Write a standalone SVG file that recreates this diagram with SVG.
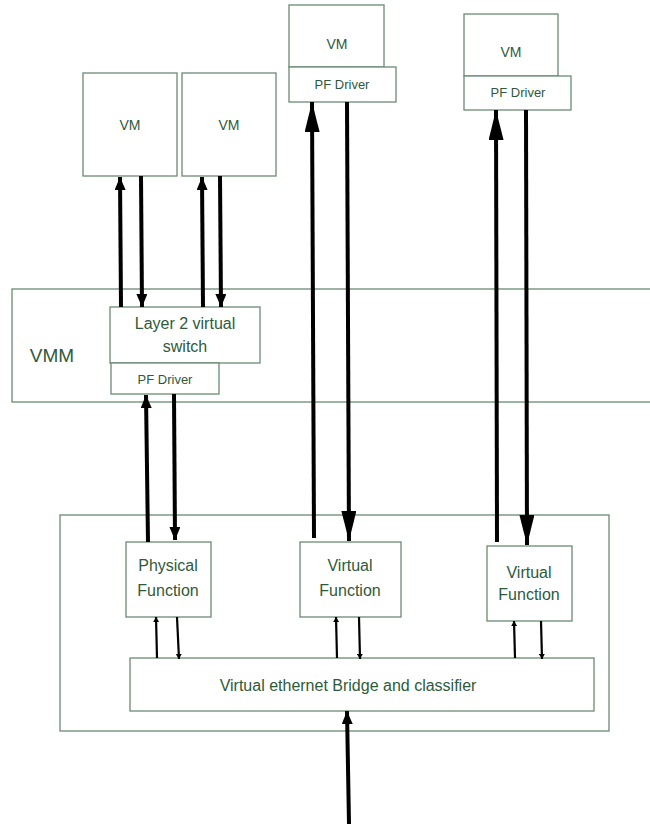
<svg xmlns="http://www.w3.org/2000/svg" width="650" height="826" viewBox="0 0 650 826">
<style>
.box{fill:#fff;stroke:#6b8a74;stroke-width:1.3}
.t{font-family:"Liberation Sans","DejaVu Sans",sans-serif;fill:#2e5a3c;text-anchor:middle}
.thick{stroke:#000;stroke-width:4;fill:none}
.thin{stroke:#000;stroke-width:2.2;fill:none}
</style>
<defs>
<marker id="big" markerUnits="userSpaceOnUse" markerWidth="30" markerHeight="15" refX="30" refY="7.5" orient="auto" viewBox="0 0 30 15">
<path d="M0,0 L30,7.5 L0,15 Z" fill="#000"/>
</marker>
<marker id="med" markerUnits="userSpaceOnUse" markerWidth="13" markerHeight="11" refX="13" refY="5.5" orient="auto" viewBox="0 0 13 11">
<path d="M0,0 L13,5.5 L0,11 Z" fill="#000"/>
</marker>
<marker id="sm" markerUnits="userSpaceOnUse" markerWidth="5" markerHeight="6" refX="5" refY="3" orient="auto" viewBox="0 0 5 6">
<path d="M0,0 L5,3 L0,6 Z" fill="#000"/>
</marker>
</defs>

<g id="vmm">
<rect class="box" x="12" y="289" width="645" height="113"/>
<text class="t" x="52" y="362" font-size="19">VMM</text>
</g>
<g id="nic">
<rect class="box" x="60" y="515" width="549" height="216"/>
</g>

<g id="vm1"><rect class="box" x="83" y="73" width="94" height="103"/><text class="t" x="130" y="130" font-size="14">VM</text></g>
<g id="vm2"><rect class="box" x="182" y="73" width="94" height="103"/><text class="t" x="229" y="130" font-size="14">VM</text></g>
<g id="vm3"><rect class="box" x="289" y="5" width="95" height="62"/><text class="t" x="337" y="49" font-size="14">VM</text></g>
<g id="pfd3"><rect class="box" x="289" y="67" width="107" height="35"/><text class="t" x="342" y="89" font-size="13">PF Driver</text></g>
<g id="vm4"><rect class="box" x="464" y="14" width="94" height="62"/><text class="t" x="511" y="57" font-size="14">VM</text></g>
<g id="pfd4"><rect class="box" x="464" y="76" width="107" height="34"/><text class="t" x="518" y="97" font-size="13">PF Driver</text></g>

<g id="l2"><rect class="box" x="110" y="307" width="150" height="56"/><text class="t" x="185" y="329" font-size="16">Layer 2 virtual</text><text class="t" x="185" y="352" font-size="16">switch</text></g>
<g id="pfd1"><rect class="box" x="111" y="363" width="108" height="31"/><text class="t" x="165" y="384" font-size="13">PF Driver</text></g>

<g id="pf"><rect class="box" x="126" y="542" width="85" height="75"/><text class="t" x="168" y="571" font-size="16">Physical</text><text class="t" x="168" y="596" font-size="16">Function</text></g>
<g id="vf1"><rect class="box" x="300" y="542" width="101" height="75"/><text class="t" x="350" y="571" font-size="16">Virtual</text><text class="t" x="350" y="596" font-size="16">Function</text></g>
<g id="vf2"><rect class="box" x="487" y="546" width="85" height="75"/><text class="t" x="529" y="578" font-size="16">Virtual</text><text class="t" x="529" y="600" font-size="16">Function</text></g>
<g id="veb"><rect class="box" x="130" y="658" width="464" height="53"/><text class="t" x="348" y="691" font-size="16">Virtual ethernet Bridge and classifier</text></g>

<g id="connectors">
<line class="thick" x1="121" y1="307" x2="120" y2="177" marker-end="url(#med)"/>
<line class="thick" x1="141" y1="176" x2="142" y2="307" marker-end="url(#med)"/>
<line class="thick" x1="203" y1="307" x2="202" y2="177" marker-end="url(#med)"/>
<line class="thick" x1="220" y1="176" x2="221" y2="307" marker-end="url(#med)"/>
<line class="thick" x1="148" y1="542" x2="146" y2="395" marker-end="url(#med)"/>
<line class="thick" x1="174" y1="394" x2="175" y2="540" marker-end="url(#med)"/>
<line class="thick" x1="314" y1="538" x2="312" y2="102" marker-end="url(#big)"/>
<line class="thick" x1="347" y1="102" x2="349" y2="541" marker-end="url(#big)"/>
<line class="thick" x1="497" y1="542" x2="496" y2="110" marker-end="url(#big)"/>
<line class="thick" x1="526" y1="110" x2="527" y2="545" marker-end="url(#big)"/>
<line class="thin" x1="157" y1="658" x2="156" y2="617" marker-end="url(#sm)"/>
<line class="thin" x1="177" y1="617" x2="179" y2="659" marker-end="url(#sm)"/>
<line class="thin" x1="337" y1="658" x2="336" y2="617" marker-end="url(#sm)"/>
<line class="thin" x1="359" y1="617" x2="360" y2="659" marker-end="url(#sm)"/>
<line class="thin" x1="515" y1="658" x2="514" y2="621" marker-end="url(#sm)"/>
<line class="thin" x1="541" y1="621" x2="542" y2="659" marker-end="url(#sm)"/>
<line class="thick" x1="349" y1="824" x2="347" y2="711" marker-end="url(#med)"/>
</g>
</svg>
